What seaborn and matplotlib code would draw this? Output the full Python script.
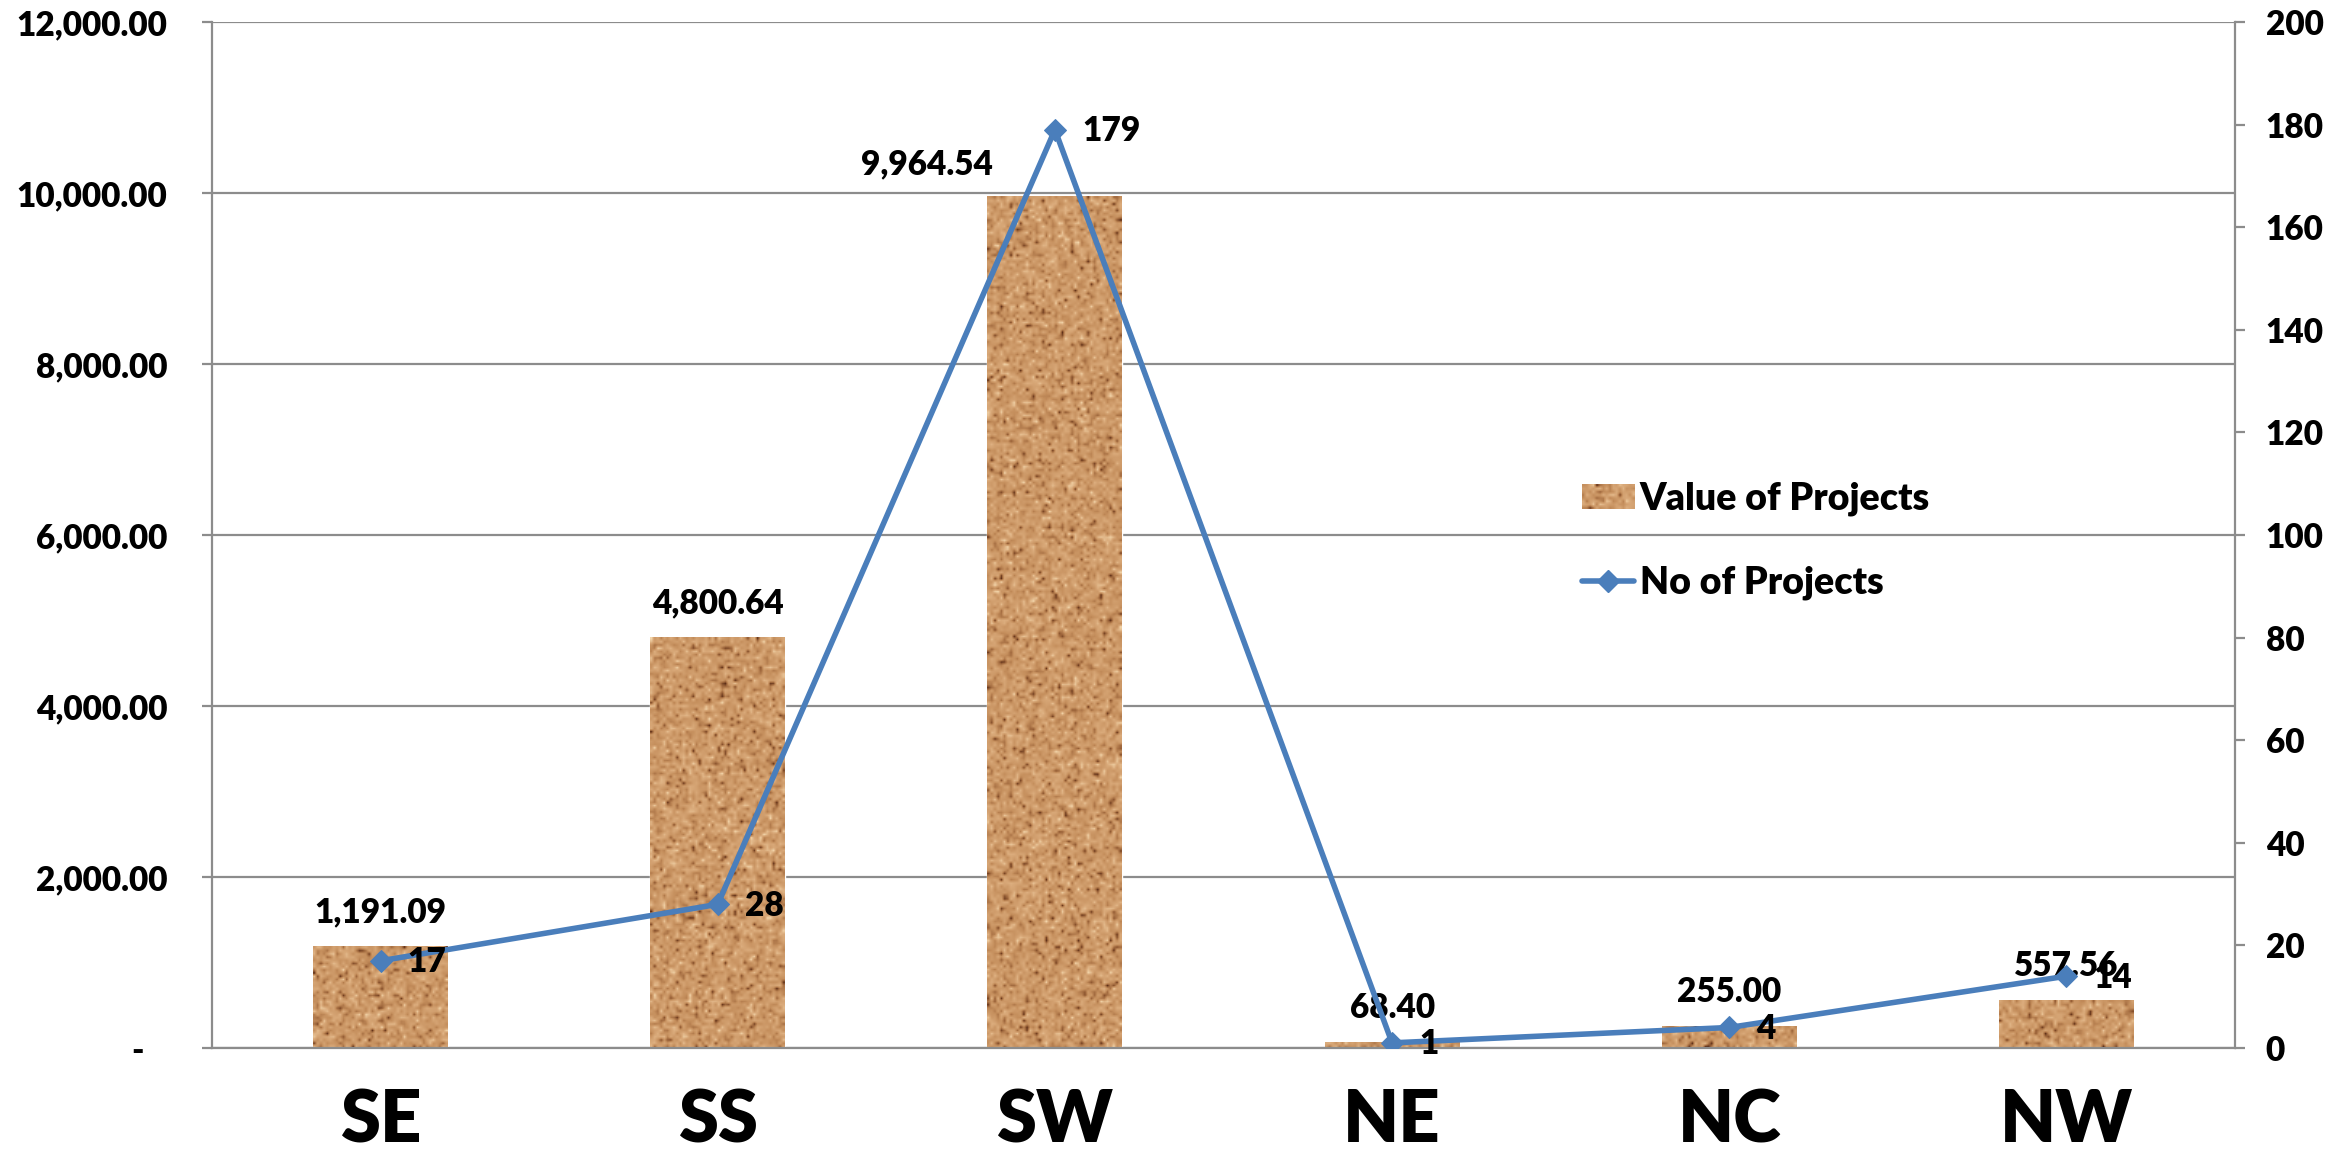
import numpy as np
import pandas as pd
import matplotlib
matplotlib.use("Agg")
import matplotlib.pyplot as plt
import seaborn as sns
from matplotlib.lines import Line2D
from matplotlib.patches import Patch
from matplotlib.colors import LinearSegmentedColormap
from matplotlib.ticker import FixedLocator, FuncFormatter

# ---- data -------------------------------------------------------------
regions = ["SE", "SS", "SW", "NE", "NC", "NW"]
project_values = [1191.09, 4800.64, 9964.54, 68.40, 255.00, 557.56]
project_counts = [17, 28, 179, 1, 4, 14]
value_ticks = [0, 2000, 4000, 6000, 8000, 10000, 12000]
count_ticks = [0, 20, 40, 60, 80, 100, 120, 140, 160, 180, 200]

df = pd.DataFrame({
    "Region": regions,
    "pos": np.arange(len(regions)),
    "Value": project_values,
    "Count": project_counts,
})

# ---- style ------------------------------------------------------------
CORK = "#C4915F"
BLUE = "#4A7EBB"
GRID = "#8C8C8C"
W_PX, H_PX = 2344, 1157
WEIGHT = 800
FS = 24

sns.set_style("white")
plt.rcParams["font.family"] = ["Lato", "DejaVu Sans"]
plt.rcParams["font.weight"] = WEIGHT
plt.rcParams["text.color"] = "black"
plt.rcParams["xtick.labelcolor"] = "black"
plt.rcParams["ytick.labelcolor"] = "black"

fig = plt.figure(figsize=(W_PX / 100, H_PX / 100), dpi=100)
ax = fig.add_axes([212 / W_PX, 1 - 1048 / H_PX, (2235 - 212) / W_PX, (1048 - 22) / H_PX])

sns.barplot(data=df, x="pos", y="Value", color=CORK, width=0.4, saturation=1,
            ax=ax, zorder=2)

# cork-like grain painted over each bar
cork_cmap = LinearSegmentedColormap.from_list(
    "cork", ["#5a2c16", "#9c643a", "#c58f5d", "#d9a979", "#f2d5aa"])
rng = np.random.default_rng(11)


def cork_texture(px_w, px_h, cell=3.2):
    nx = max(2, int(round(px_w / cell)))
    ny = max(2, int(round(px_h / cell)))
    grain = rng.normal(0.6, 0.15, (ny, nx))
    specks = rng.random((ny, nx)) < 0.03
    grain[specks] = rng.uniform(0.0, 0.2, specks.sum())
    return np.clip(grain, 0, 1)


ax.set_xlim(-0.5, 5.5)
ax.set_ylim(0, 12000)
px_per_val = (1048 - 22) / 12000
px_per_x = (2235 - 212) / 6
for patch in list(ax.patches):
    x0, w, h = patch.get_x(), patch.get_width(), patch.get_height()
    tex = cork_texture(w * px_per_x, h * px_per_val)
    ax.imshow(tex, cmap=cork_cmap, vmin=0, vmax=1, extent=(x0, x0 + w, 0, h),
              aspect="auto", interpolation="bilinear", zorder=2.5)
ax.set_xlim(-0.5, 5.5)
ax.set_ylim(0, 12000)

# ---- count line on secondary axis --------------------------------------
ax2 = ax.twinx()
sns.lineplot(data=df, x="pos", y="Count", ax=ax2, color=BLUE, lw=4,
             marker="D", markersize=11, markeredgecolor=BLUE, sort=False, zorder=5)
ax2.set_ylim(0, 200)
ax2.set_xlim(-0.5, 5.5)

# ---- axes styling -----------------------------------------------------
ax.yaxis.grid(True, color=GRID, lw=1.6)
ax.xaxis.grid(False)
ax.set_axisbelow(True)
for name, sp in ax.spines.items():
    sp.set_visible(name in ("left", "bottom"))
    sp.set_color(GRID)
    sp.set_linewidth(1.6)
for name, sp in ax2.spines.items():
    sp.set_visible(name == "right")
    sp.set_color(GRID)
    sp.set_linewidth(1.6)

ax.yaxis.set_major_locator(FixedLocator(value_ticks))
ax.yaxis.set_major_formatter(FuncFormatter(lambda v, _: "-   " if v == 0 else f"{v:,.2f}"))
ax.tick_params(axis="y", length=7.2, width=1.6, color=GRID, pad=25, labelsize=FS,
               labelcolor="black")

ax2.yaxis.set_major_locator(FixedLocator(count_ticks))
ax2.yaxis.set_major_formatter(FuncFormatter(lambda v, _: f"{v:.0f}"))
ax2.tick_params(axis="y", length=7.2, width=1.6, color=GRID, pad=15, labelsize=FS,
                labelcolor="black")

ax.set_xticks(df["pos"])
ax.set_xticklabels(regions)
ax.set_xticks(np.arange(-0.5, 6, 1.0), minor=True)
ax.tick_params(axis="x", which="major", length=0, pad=29, labelsize=52, labelcolor="black")
ax.tick_params(axis="x", which="minor", length=13, width=1.6, color=GRID)
for lbl in ax.get_xticklabels() + ax.get_yticklabels() + ax2.get_yticklabels():
    lbl.set_fontweight(WEIGHT)

ax.set_xlabel("")
ax.set_ylabel("")
ax2.set_ylabel("")

# ---- data labels ------------------------------------------------------
for patch, val, region in zip(ax.patches[: len(regions)], project_values, regions):
    cx = patch.get_x() + patch.get_width() / 2
    if region == "SW":
        ax.annotate(f"{val:,.2f}", (patch.get_x(), val), xytext=(4, 23),
                    textcoords="offset points", ha="right", va="center",
                    fontsize=FS, fontweight=WEIGHT, color="black", zorder=6)
    else:
        ax.annotate(f"{val:,.2f}", (cx, val), xytext=(0, 24.5),
                    textcoords="offset points", ha="center", va="center",
                    fontsize=FS, fontweight=WEIGHT, color="black", zorder=6)

for x, n in zip(df["pos"], project_counts):
    ax2.annotate(f"{n}", (x, n), xytext=(19.5, -1), textcoords="offset points",
                 ha="left", va="center", fontsize=FS, fontweight=WEIGHT,
                 color="black", zorder=6)

# ---- legend -----------------------------------------------------------
handles = [
    Patch(facecolor=CORK, edgecolor="none"),
    Line2D([], [], color=BLUE, lw=4, marker="D", markersize=11),
]
leg = ax2.legend(handles, ["Value of Projects", "No of Projects"],
                 loc="center left", bbox_to_anchor=(0.677, 0.494), frameon=False,
                 prop={"size": 27, "weight": WEIGHT}, handlelength=1.39,
                 handletextpad=0.16, labelspacing=1.32, borderpad=0,
                 borderaxespad=0, handleheight=0.64, labelcolor="black")

fig.canvas.draw()
bb = leg.get_patches()[0].get_window_extent()
swatch = fig.add_axes([bb.x0 / W_PX, bb.y0 / H_PX, bb.width / W_PX, bb.height / H_PX])
swatch.imshow(cork_texture(bb.width, bb.height), cmap=cork_cmap, vmin=0, vmax=1,
              aspect="auto", interpolation="bilinear")
swatch.axis("off")

fig.savefig("out.png", dpi=100)
